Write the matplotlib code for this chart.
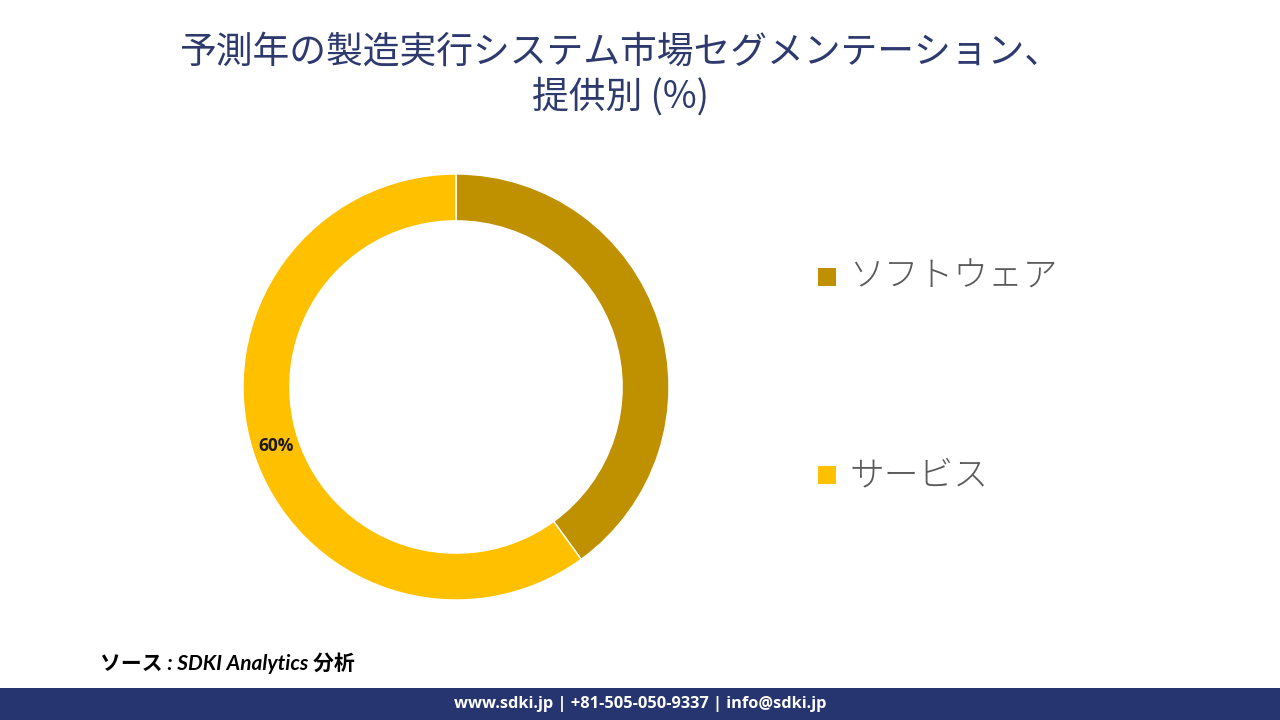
import matplotlib
matplotlib.use("Agg")
import matplotlib.pyplot as plt
from matplotlib.patches import Rectangle
import numpy as np

plt.rcParams['font.family'] = ['Noto Sans CJK JP', 'DejaVu Sans']

categories = ["ソフトウェア", "サービス"]
values = [40, 60]
colors = ["#BF9000", "#FFC000"]
shown_labels = [None, "60%"]

title_text = "予測年の製造実行システム市場セグメンテーション、\n提供別 (%)"
source_text = "ソース : SDKI Analytics 分析"
footer_text = "www.sdki.jp | +81-505-050-9337 | info@sdki.jp"

W, H = 1280, 720
fig = plt.figure(figsize=(W / 100, H / 100), dpi=100)
fig.patch.set_facecolor("white")

# donut axes
cx, cy, R = 456, 387, 213
ax = fig.add_axes([(cx - R) / W, (H - cy - R) / H, 2 * R / W, 2 * R / H])
wedges, _ = ax.pie(values, colors=colors, startangle=90, counterclock=False,
                   radius=1.0, wedgeprops=dict(width=0.22, edgecolor="white", linewidth=1))
for w, lab in zip(wedges, shown_labels):
    if lab is None:
        continue
    ang = np.deg2rad((w.theta1 + w.theta2) / 2)
    r = 0.89
    ax.text(r * np.cos(ang), r * np.sin(ang), lab, ha="center", va="center",
            fontsize=12.5, fontweight="bold", color="#1a1a1a",
            family=["Open Sans", "DejaVu Sans"])
ax.set_xlim(-1, 1)
ax.set_ylim(-1, 1)
ax.set_aspect("equal")
ax.axis("off")

# legend
leg_y = [277, 475]
for cat, col, y in zip(categories, colors, leg_y):
    fig.patches.append(Rectangle((818 / W, (H - y - 9) / H), 18 / W, 18 / H,
                                 transform=fig.transFigure, facecolor=col,
                                 edgecolor="none"))
    fig.text(849 / W, (H - y) / H, cat, ha="left", va="center",
             fontsize=25, fontweight="light", color="#595959")

# title
fig.text(620 / W, (H - 75) / H, title_text, ha="center", va="center",
         fontsize=26.5, color="#2E3A6E", linespacing=1.2)

# source
fig.text(100 / W, (H - 663) / H, source_text, ha="left", va="center",
         fontsize=15, fontweight="bold", style="italic", color="black",
         family=["Lato", "Noto Sans CJK JP"])

# footer bar
fig.patches.append(Rectangle((0, 0), 1, 32 / H, transform=fig.transFigure,
                             facecolor="#263470", edgecolor="none"))
fig.text(640 / W, 16 / H, footer_text, ha="center", va="center",
         fontsize=11.8, fontweight="bold", color="white",
         family=["Open Sans", "DejaVu Sans"])

fig.savefig("out.png", dpi=100)
